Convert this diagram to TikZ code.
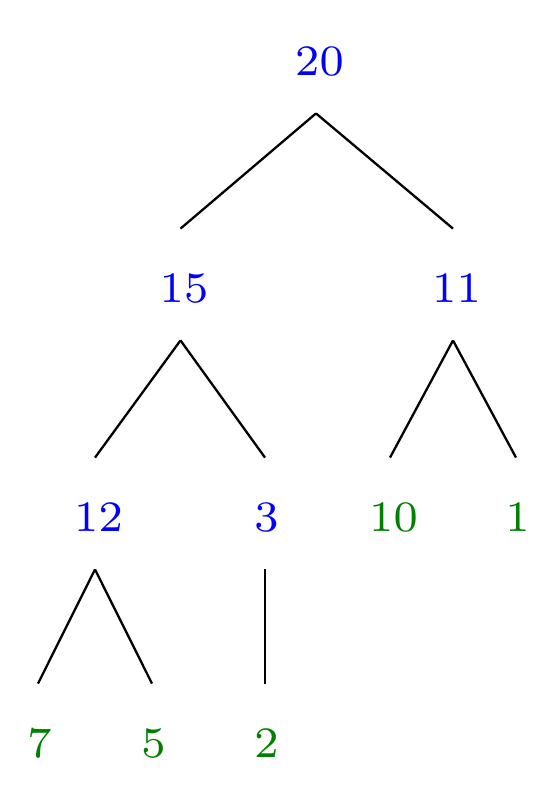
\documentclass[tikz,border=0pt]{standalone}
\usepackage{xcolor}
\definecolor{tblue}{RGB}{0,0,255}
\definecolor{tgreen}{RGB}{0,128,0}
\font\treefont=cmr7 at 21.7pt
\newcommand{\twod}[1]{\hspace*{3.5pt}#1}
\newcommand{\oned}[1]{\hspace*{1.5pt}#1}
\begin{document}
\begin{tikzpicture}[x=0.5pt,y=-0.5pt,
  num/.style={inner sep=0pt,anchor=base,text height=36.75pt,text depth=18.75pt,
    font=\treefont},
  inner/.style={num,text=tblue},
  leaf/.style={num,text=tgreen},
  edge/.style={line width=1.15pt,black}]
\useasboundingbox (0,0) rectangle (546,792);
\node[inner] (n20) at (316,75.5) {\twod{20}};
\node[inner] (n15) at (180.5,302.5) {\twod{15}};
\node[inner] (n11) at (453,302.5) {\twod{11}};
\node[inner] (n12) at (95,531.5) {\twod{12}};
\node[inner] (n3) at (265,531.5) {\oned{3}};
\node[leaf] (n10) at (390,531.5) {\twod{10}};
\node[leaf] (n1) at (516,531.5) {\oned{1}};
\node[leaf] (n7) at (38,757.5) {\oned{7}};
\node[leaf] (n5) at (152,757.5) {\oned{5}};
\node[leaf] (n2) at (265,757.5) {\oned{2}};
\foreach \a/\b in {n20/n15,n20/n11,n15/n12,n15/n3,n11/n10,n11/n1,n12/n7,n12/n5,n3/n2}
  \draw[edge] (\a.south) -- (\b.north);
\end{tikzpicture}
\end{document}
